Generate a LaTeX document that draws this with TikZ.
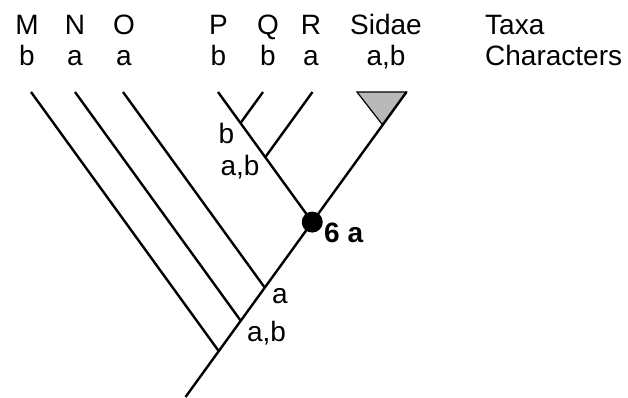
\documentclass[tikz,border=0pt]{standalone}
\usepackage{fontspec}
\setmainfont{Liberation Sans}
\usetikzlibrary{positioning,calc,intersections}

\begin{document}
\begin{tikzpicture}[x=1pt,y=-1pt,node distance=31pt,
  txt/.style={inner sep=0pt,anchor=base,font=\fontsize{28}{32}\selectfont},
  branch/.style={line width=2.4pt}]
\useasboundingbox (0,0) rectangle (628,397);

% taxa row
\node[txt] (tM) at (27,34) {M};
\node[txt] (tN) at (75,34) {N};
\node[txt] (tO) at (124,34) {O};
\node[txt] (tP) at (218.5,34) {P};
\node[txt] (tQ) at (268,34) {Q};
\node[txt] (tR) at (311,34) {R};
\node[txt] (tS) at (386,34) {Sidae};
\node[txt,anchor=base west] (tT) at (485,34) {Taxa};

% characters row
\node[txt,below=of tM.base,anchor=base] (cM) {b};
\node[txt,below=of tN.base,anchor=base] (cN) {a};
\node[txt,below=of tO.base,anchor=base] (cO) {a};
\node[txt,below=of tP.base,anchor=base] (cP) {b};
\node[txt,below=of tQ.base,anchor=base] (cQ) {b};
\node[txt,below=of tR.base,anchor=base] (cR) {a};
\node[txt,below=of tS.base,anchor=base] (cS) {a,b};
\node[txt,below=of tT.base west,anchor=base west] (cT) {Characters};

% tips and root
\coordinate (mtip) at (31,92);
\coordinate (ntip) at (75,92);
\coordinate (otip) at (123,92);
\coordinate (ptip) at (218,92);
\coordinate (qtip) at (263,92);
\coordinate (rtip) at (312.5,92);
\coordinate (stip) at (406.5,92);
\coordinate (root) at (185.5,397);
\coordinate (apex) at ($(stip)!0.108!(root)$);

% junctions
\path[name path=trunk] (root) -- (stip);
\path[name path=pline] (ptip) -- +(200,276);
\foreach \t in {m,n,o}{
  \path[name path=side] (\t tip) -- +(300,414);
  \path[name intersections={of=trunk and side,by=j\t}];
}
\path[name intersections={of=trunk and pline,by=dot}];
\foreach \t in {q,r}{
  \path[name path=side] (\t tip) -- +(-200,276);
  \path[name intersections={of=pline and side,by=j\t}];
}

% Sidae clade
\filldraw[fill=gray!55,line width=1.2pt] (357,92) -- (stip) -- (apex) -- cycle;

\draw[branch] (root) -- (stip);
\foreach \t in {m,n,o} \draw[branch] (\t tip) -- (j\t);
\draw[branch] (ptip) -- (dot);
\foreach \t in {q,r} \draw[branch] (\t tip) -- (j\t);

\node[circle,fill,inner sep=0pt,minimum size=21pt] (blob) at (dot) {};

% character changes
\node[txt] (lq) at (226.5,143) {b};
\node[txt] (lr) at (240,175) {a,b};
\node[txt,anchor=base west,font=\fontsize{28}{32}\selectfont\bfseries] (lsix) at (324,242.5) {6 a};
\node[txt] (lo) at (280,303) {a};
\node[txt] (ln) at (266.5,341) {a,b};

\end{tikzpicture}
\end{document}
